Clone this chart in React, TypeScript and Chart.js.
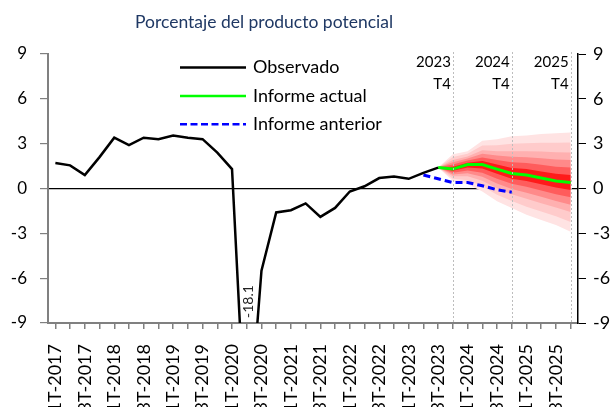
import React, { useEffect, useRef } from 'react';
import { Chart, registerables } from 'chart.js';
Chart.register(...registerables);

const categories = [
  '1T-2017','2T-2017','3T-2017','4T-2017',
  '1T-2018','2T-2018','3T-2018','4T-2018',
  '1T-2019','2T-2019','3T-2019','4T-2019',
  '1T-2020','2T-2020','3T-2020','4T-2020',
  '1T-2021','2T-2021','3T-2021','4T-2021',
  '1T-2022','2T-2022','3T-2022','4T-2022',
  '1T-2023','2T-2023','3T-2023','4T-2023',
  '1T-2024','2T-2024','3T-2024','4T-2024',
  '1T-2025','2T-2025','3T-2025','4T-2025',
];

const observado = [
  1.7, 1.55, 0.9, 2.1, 3.4, 2.9, 3.4, 3.3, 3.55, 3.4, 3.3, 2.4, 1.3, -18.1,
  -5.5, -1.6, -1.45, -1.0, -1.9, -1.3, -0.2, 0.15, 0.7, 0.8, 0.65, 1.05, 1.4,
  null, null, null, null, null, null, null, null, null,
];

// forecast part (from 3T-2023 to 4T-2025)
const fanStart = 26;
const informeActual = [1.4, 1.3, 1.6, 1.6, 1.3, 1.0, 0.9, 0.7, 0.5, 0.4];

// previous report (from 2T-2023 to 4T-2024)
const anteriorStart = 25;
const informeAnterior = [0.9, 0.65, 0.4, 0.4, 0.18, -0.08, -0.25];

// fan bands, inner to outer
const banda1Sup = [1.4, 1.45, 1.73, 1.84, 1.6, 1.38, 1.3, 1.14, 0.98, 0.9];
const banda1Inf = [1.4, 1.18, 1.4, 1.33, 0.98, 0.66, 0.5, 0.28, 0.06, -0.1];
const banda2Sup = [1.4, 1.6, 1.87, 2.08, 1.9, 1.75, 1.7, 1.59, 1.46, 1.41];
const banda2Inf = [1.4, 1.06, 1.21, 1.06, 0.66, 0.31, 0.11, -0.14, -0.39, -0.59];
const banda3Sup = [1.4, 1.75, 2.01, 2.32, 2.2, 2.13, 2.09, 2.03, 1.94, 1.91];
const banda3Inf = [1.4, 0.94, 1.02, 0.79, 0.33, -0.04, -0.29, -0.56, -0.83, -1.09];
const banda4Sup = [1.4, 1.9, 2.14, 2.56, 2.5, 2.5, 2.49, 2.47, 2.42, 2.41];
const banda4Inf = [1.4, 0.82, 0.82, 0.52, 0.01, -0.38, -0.69, -0.98, -1.27, -1.58];
const banda5Sup = [1.4, 2.1, 2.32, 2.88, 2.9, 3.0, 3.02, 3.06, 3.06, 3.08];
const banda5Inf = [1.4, 0.66, 0.56, 0.16, -0.42, -0.84, -1.22, -1.54, -1.86, -2.24];
const banda6Sup = [1.4, 2.3, 2.5, 3.2, 3.3, 3.5, 3.55, 3.65, 3.7, 3.75];
const banda6Inf = [1.4, 0.5, 0.3, -0.2, -0.85, -1.3, -1.75, -2.1, -2.45, -2.9];

const bandColors = ['#FF1A1A', '#FF5C5C', '#FF8A8A', '#FFB0B0', '#FFCBCB', '#FFE3E3'];

const yTicks = [-9, -6, -3, 0, 3, 6, 9];
const subtitle = 'Porcentaje del producto potencial';
const legendItems = ['Observado', 'Informe actual', 'Informe anterior'];
const yearMarks = [
  { idx: 27, year: '2023', q: 'T4' },
  { idx: 31, year: '2024', q: 'T4' },
  { idx: 35, year: '2025', q: 'T4' },
];
const minLabel = '-18.1';
const minIdx = 13;

const W = 640;
const H = 450;
const FONT = 'Lato, "Open Sans", sans-serif';

function place(start: number, vals: number[]) {
  const out: (number | null)[] = categories.map(() => null);
  vals.forEach((v, i) => { out[start + i] = v; });
  return out;
}

export default function App() {
  const ref = useRef<HTMLCanvasElement>(null);
  useEffect(() => {
    if (!ref.current) return;
    const bands = [
      [banda1Sup, banda1Inf], [banda2Sup, banda2Inf], [banda3Sup, banda3Inf],
      [banda4Sup, banda4Inf], [banda5Sup, banda5Inf], [banda6Sup, banda6Inf],
    ];
    const datasets: any[] = [
      { label: legendItems[0], data: observado, borderColor: '#000000', borderWidth: 2.5, pointRadius: 0, fill: false, yAxisID: 'y' },
      { label: legendItems[1], data: place(fanStart, informeActual), borderColor: '#00FF00', borderWidth: 3, pointRadius: 0, fill: false, yAxisID: 'y' },
      { label: legendItems[2], data: place(anteriorStart, informeAnterior), borderColor: '#0000FF', borderWidth: 3, borderDash: [7, 4], pointRadius: 0, fill: false, yAxisID: 'y' },
    ];
    bands.forEach((b, k) => {
      const upIndex = datasets.length;
      datasets.push({
        label: 'sup' + k, data: place(fanStart, b[0]), borderWidth: 0, borderColor: 'transparent',
        pointRadius: 0, backgroundColor: bandColors[k], fill: { target: upIndex + 1 }, yAxisID: 'y',
      });
      datasets.push({
        label: 'inf' + k, data: place(fanStart, b[1]), borderWidth: 0, borderColor: 'transparent',
        pointRadius: 0, fill: false, yAxisID: 'y',
      });
    });

    const decor = {
      id: 'decor',
      afterDatasetsDraw(chart: any) {
        const { ctx, chartArea, scales } = chart;
        const x = scales.x;
        const y = scales.y;
        ctx.save();
        // vertical dotted lines
        ctx.strokeStyle = '#BDBDBD';
        ctx.lineWidth = 1;
        ctx.setLineDash([2, 2]);
        yearMarks.forEach((m) => {
          const px = Math.round(x.getPixelForValue(m.idx)) + 0.5;
          ctx.beginPath();
          ctx.moveTo(px, 52);
          ctx.lineTo(px, chartArea.bottom);
          ctx.stroke();
        });
        ctx.setLineDash([]);
        ctx.fillStyle = '#000';
        ctx.font = '15px ' + FONT;
        ctx.textAlign = 'right';
        ctx.textBaseline = 'alphabetic';
        yearMarks.forEach((m) => {
          const px = x.getPixelForValue(m.idx);
          ctx.fillText(m.year, px - 2, 67);
          ctx.fillText(m.q, px - 2, 89);
        });
        // min label
        ctx.save();
        ctx.translate(x.getPixelForValue(minIdx) + 2, y.getPixelForValue(-9) - 5);
        ctx.rotate(-Math.PI / 2);
        ctx.font = '14px ' + FONT;
        ctx.fillStyle = '#222';
        ctx.textAlign = 'left';
        ctx.textBaseline = 'middle';
        ctx.fillText(minLabel, 0, 0);
        ctx.restore();
        // legend
        const rows = [67.5, 96, 124.3];
        const ds = chart.data.datasets;
        rows.forEach((ry, i) => {
          ctx.beginPath();
          ctx.strokeStyle = ds[i].borderColor;
          ctx.lineWidth = 2.5;
          ctx.setLineDash(i === 2 ? [7, 3.5] : []);
          ctx.moveTo(180, ry);
          ctx.lineTo(246, ry);
          ctx.stroke();
          ctx.setLineDash([]);
          ctx.fillStyle = '#000';
          ctx.font = '18px ' + FONT;
          ctx.textAlign = 'left';
          ctx.textBaseline = 'middle';
          ctx.fillText(legendItems[i], 253, ry);
        });
        // subtitle
        ctx.fillStyle = '#1F3864';
        ctx.font = '17.5px ' + FONT;
        ctx.textAlign = 'center';
        ctx.textBaseline = 'middle';
        ctx.fillText(subtitle, 264, 22);
        ctx.restore();
      },
    };

    const tickFont = { family: FONT, size: 17 };
    const chart = new Chart(ref.current, {
      type: 'line',
      data: { labels: categories, datasets },
      options: {
        responsive: false,
        animation: false,
        layout: { padding: { top: 54, left: 0, right: 0, bottom: 0 } },
        plugins: { legend: { display: false }, tooltip: { enabled: false }, title: { display: false } },
        elements: { line: { tension: 0 } },
        scales: {
          x: {
            type: 'category',
            offset: true,
            grid: { offset: false, drawOnChartArea: false, drawTicks: true, tickLength: 6, tickColor: '#808080', lineWidth: 1.5 },
            border: { color: '#808080', width: 2 },
            ticks: {
              autoSkip: false, maxRotation: 90, minRotation: 90, padding: 15,
              font: { family: FONT, size: 18 }, color: '#000',
              callback: (_v: any, i: number) => (i % 2 === 0 ? categories[i] : ''),
            },
            afterFit: (s: any) => { s.height = H - 323; },
          },
          y: {
            position: 'left', min: -9, max: 9,
            afterBuildTicks: (s: any) => { s.ticks = yTicks.map((v) => ({ value: v })); },
            ticks: { padding: 13, font: tickFont, color: '#000' },
            grid: {
              color: (c: any) => (c.tick && c.tick.value === 0 ? '#000000' : 'rgba(0,0,0,0)'),
              lineWidth: 1.2, tickColor: '#808080', tickLength: 8,
            },
            border: { color: '#808080', width: 2 },
            afterFit: (s: any) => { s.width = 48; },
          },
          y2: {
            position: 'right', min: -9, max: 9,
            afterBuildTicks: (s: any) => { s.ticks = yTicks.map((v) => ({ value: v })); },
            ticks: { padding: 7, font: { family: FONT, size: 18 }, color: '#000' },
            grid: { drawOnChartArea: false, tickColor: '#000', tickLength: 8 },
            border: { color: '#000', width: 1.5 },
            afterFit: (s: any) => { s.width = W - 578; },
          },
        },
      },
      plugins: [decor],
    } as any);
    return () => chart.destroy();
  }, []);

  return (
    <div style={{ position: 'fixed', left: 0, top: 0, width: 610, height: 407, overflow: 'hidden', background: '#fff' }}>
      <canvas ref={ref} width={W} height={H} style={{ position: 'absolute', left: 0, top: 0, width: W, height: H }} />
    </div>
  );
}
